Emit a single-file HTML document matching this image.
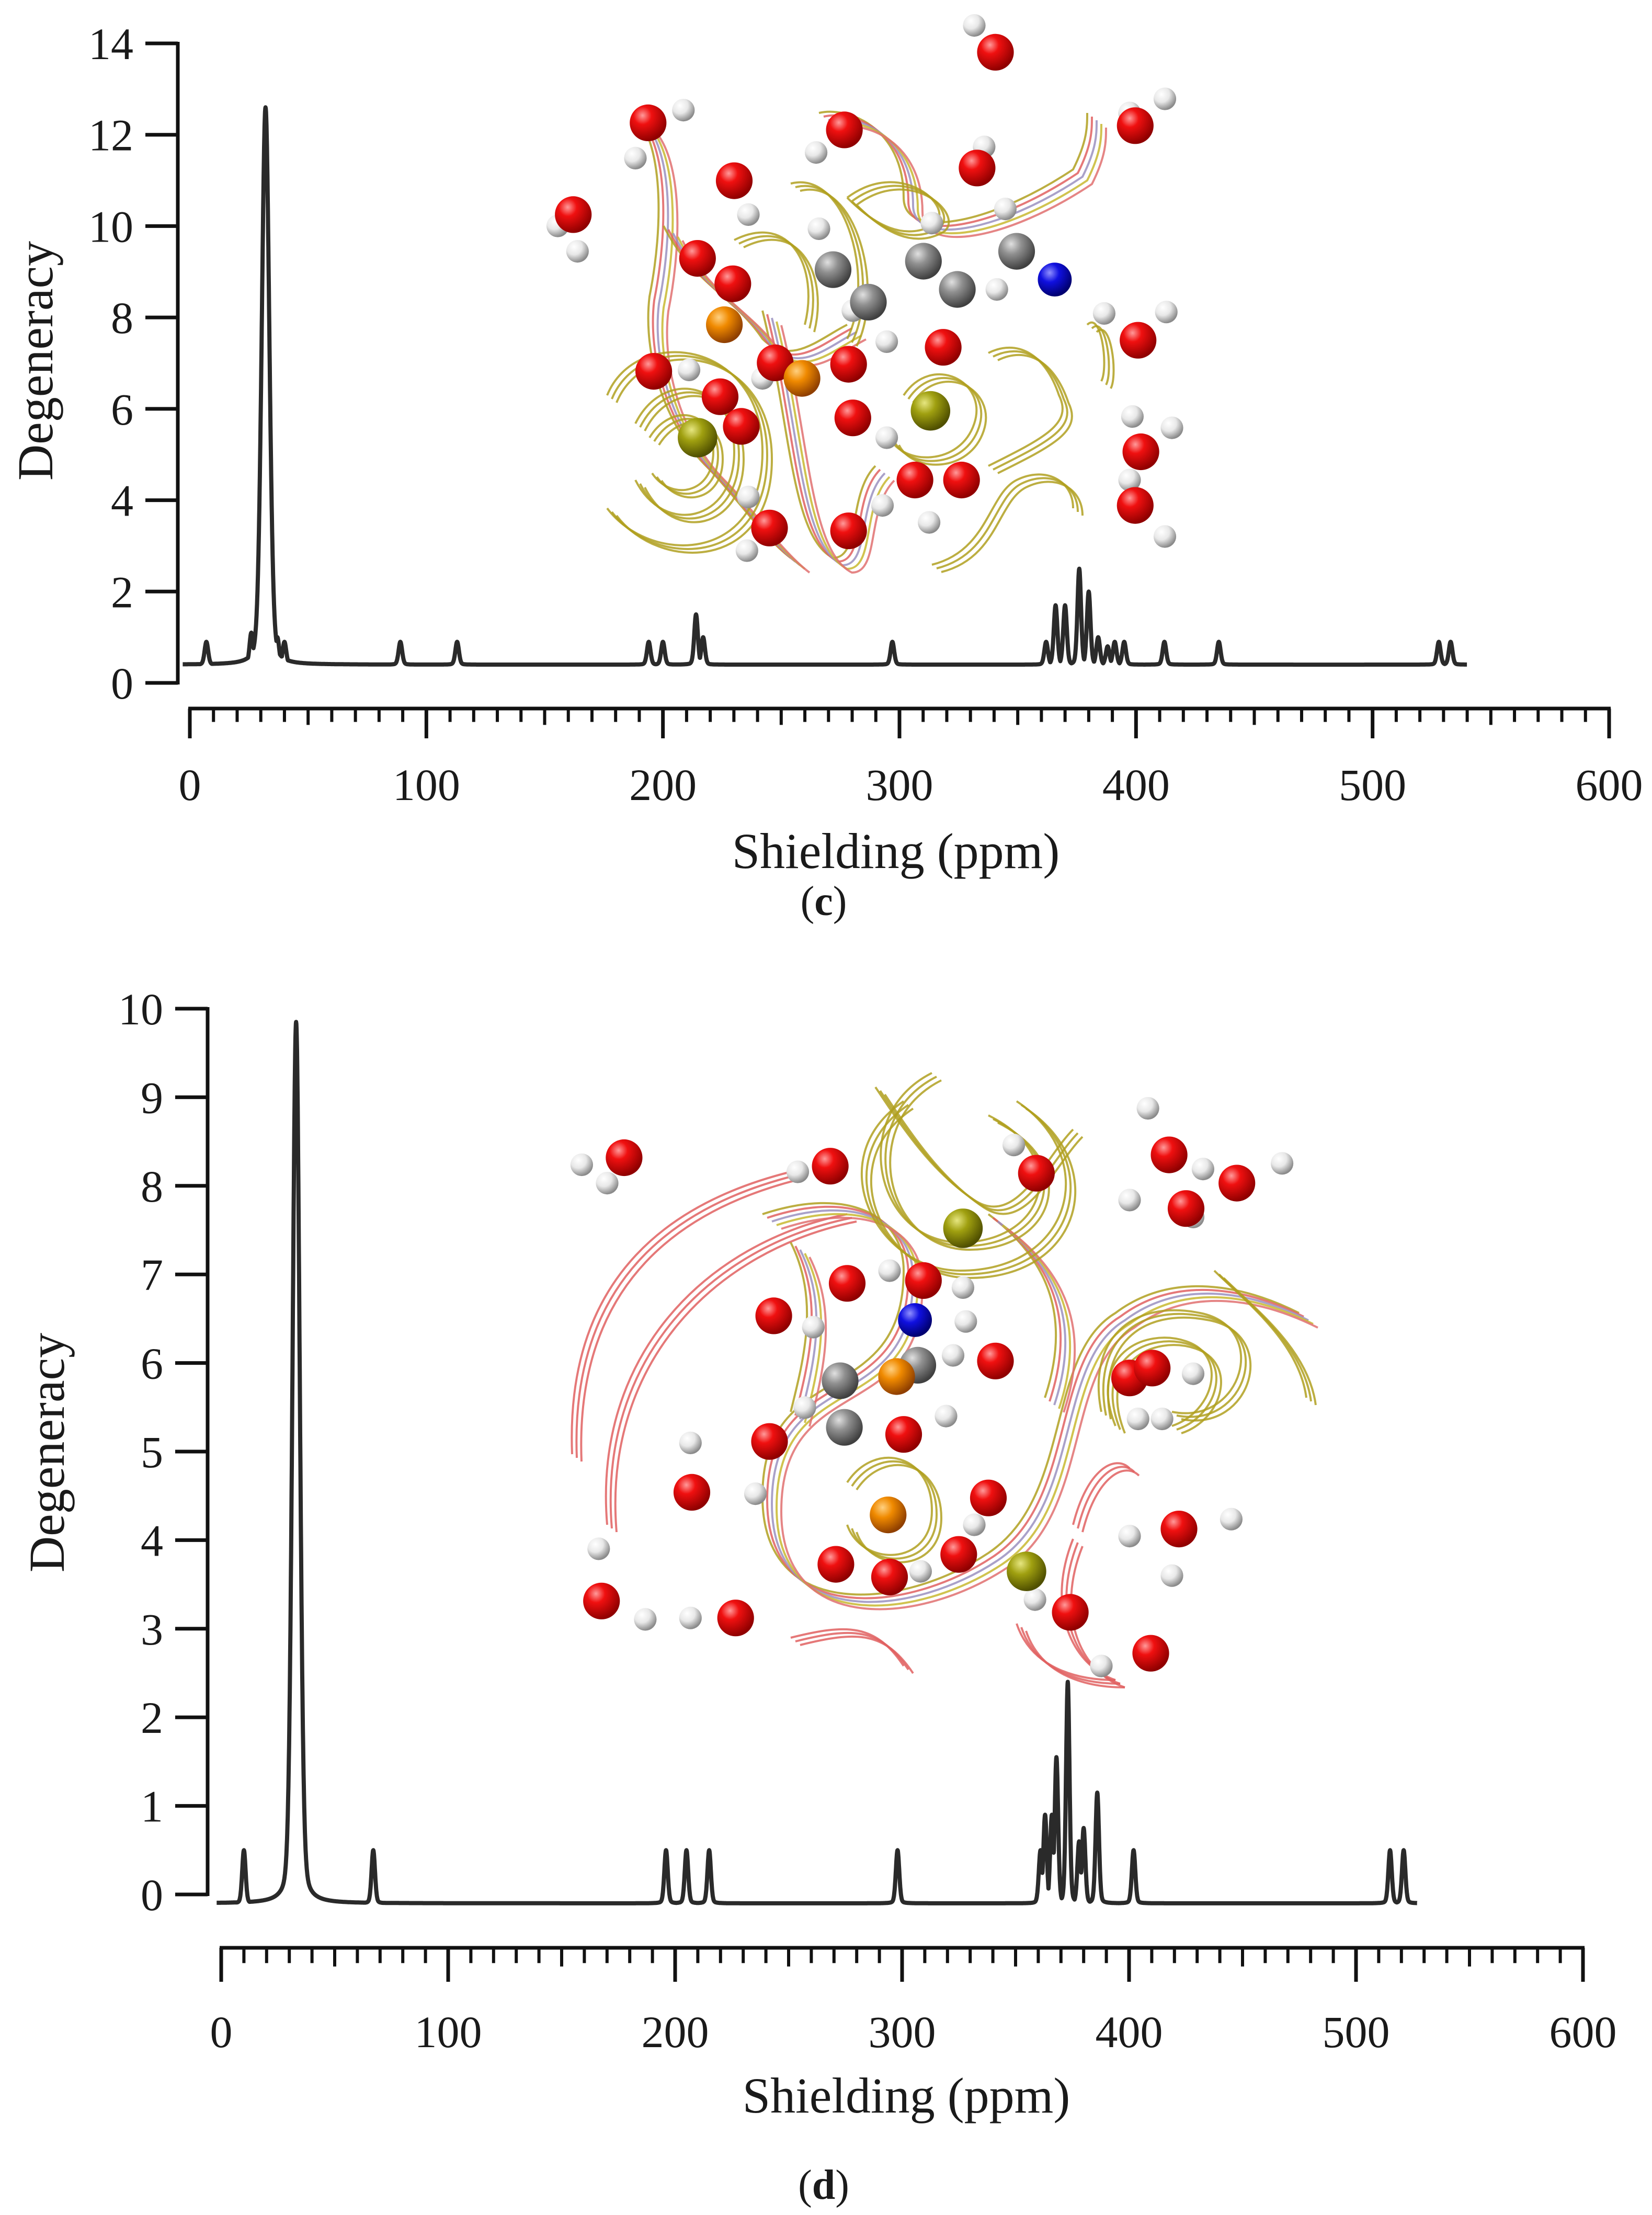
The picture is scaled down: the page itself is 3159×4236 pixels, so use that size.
<!DOCTYPE html>
<html><head><meta charset="utf-8">
<style>
html,body{margin:0;padding:0;background:#fff;}
svg{display:block;}
text{font-family:"Liberation Serif",serif;fill:#1a1a1a;}
</style></head>
<body>
<svg id="fig" width="3159" height="4236" viewBox="0 0 3159 4236" xmlns="http://www.w3.org/2000/svg">
<defs>
<radialGradient id="gR" cx="35%" cy="30%" r="70%"><stop offset="0" stop-color="#ff9a9a"/><stop offset="0.35" stop-color="#f01010"/><stop offset="1" stop-color="#900000"/></radialGradient>
<radialGradient id="gW" cx="35%" cy="30%" r="70%"><stop offset="0" stop-color="#ffffff"/><stop offset="0.5" stop-color="#e8e8e8"/><stop offset="1" stop-color="#8a8a8a"/></radialGradient>
<radialGradient id="gG" cx="35%" cy="30%" r="70%"><stop offset="0" stop-color="#e0e0e0"/><stop offset="0.4" stop-color="#909090"/><stop offset="1" stop-color="#404040"/></radialGradient>
<radialGradient id="gO" cx="35%" cy="30%" r="70%"><stop offset="0" stop-color="#ffd080"/><stop offset="0.4" stop-color="#f08a00"/><stop offset="1" stop-color="#904000"/></radialGradient>
<radialGradient id="gY" cx="35%" cy="30%" r="70%"><stop offset="0" stop-color="#e6e680"/><stop offset="0.4" stop-color="#a0a010"/><stop offset="1" stop-color="#505000"/></radialGradient>
<radialGradient id="gB" cx="35%" cy="30%" r="70%"><stop offset="0" stop-color="#9090ff"/><stop offset="0.4" stop-color="#1010e0"/><stop offset="1" stop-color="#000070"/></radialGradient>
</defs>
<g id="c-chart"></g>
<g id="d-chart"></g>
</svg>
<script>
// ---- Chart (c) data ----
const cPeakPos = [7, 26, 32, 37, 40, 89, 113, 194, 200, 214, 217, 297, 362, 366, 370, 376, 380, 384, 388, 391, 395, 412, 435, 528, 533];
const cPeakHeight = [0.9, 1.1, 12.6, 1.0, 0.9, 0.9, 0.9, 0.9, 0.9, 1.5, 1.0, 0.9, 0.9, 1.7, 1.7, 2.5, 2.0, 1.0, 0.8, 0.9, 0.9, 0.9, 0.9, 0.9, 0.9];
const cBaseline = 0.4;
const cYTicks = [0, 2, 4, 6, 8, 10, 12, 14];
const cXTicks = [0, 100, 200, 300, 400, 500, 600];
// ---- Chart (d) data ----
const dPeakPos = [10, 33, 67, 196, 205, 215, 298, 361, 363, 366, 368, 373, 378, 380, 386, 402, 515, 521];
const dPeakHeight = [0.5, 9.85, 0.5, 0.5, 0.5, 0.5, 0.5, 0.5, 0.9, 0.9, 1.55, 2.4, 0.6, 0.75, 1.15, 0.5, 0.5, 0.5];
const dBaseline = -0.1;
const dYTicks = [0,1,2,3,4,5,6,7,8,9,10];
const dXTicks = [0, 100, 200, 300, 400, 500, 600];

const NS = "http://www.w3.org/2000/svg";
function mk(parent, tag, attrs){ const e=document.createElementNS(NS,tag); for(const k in attrs) e.setAttribute(k,attrs[k]); parent.appendChild(e); return e; }

function drawChart(g, cfg){
  const sx = v => cfg.x0 + (v - 0) * (cfg.x600 - cfg.x0) / 600;
  const sy = v => cfg.y0 - (v - cfg.ymin) * (cfg.y0 - cfg.ytop) / (cfg.ymax - cfg.ymin);
  const ya = mk(g,'line',{x1:cfg.yAxisX,y1:sy(cfg.ymax)-3,x2:cfg.yAxisX,y2:sy(cfg.ymin)+3,stroke:'#111','stroke-width':7});
   
  cfg.yTicks.forEach(t=>{
    const tk = mk(g,'line',{x1:cfg.yAxisX-62,y1:sy(t),x2:cfg.yAxisX,y2:sy(t),stroke:'#111','stroke-width':7});
     
    const lb = mk(g,'text',{x:cfg.yAxisX-85,y:sy(t)+30,'text-anchor':'end','font-size':86});
    lb.textContent = t;
     
  });
  const xa = mk(g,'line',{x1:sx(0)-3,y1:cfg.xAxisY,x2:sx(600)+3,y2:cfg.xAxisY,stroke:'#111','stroke-width':7});
   
  for(let v=0; v<=600; v+=10){
    const major = v%100===0, mid = v%50===0;
    const len = major?cfg.majorLen:(mid?cfg.majorLen*0.55:cfg.majorLen*0.45);
    const tk = mk(g,'line',{x1:sx(v),y1:cfg.xAxisY,x2:sx(v),y2:cfg.xAxisY+len,stroke:'#111','stroke-width':major?7:6});
     
  }
  cfg.xTicks.forEach(t=>{
    const lb = mk(g,'text',{x:sx(t),y:cfg.xLabelY,'text-anchor':'middle','font-size':86});
    lb.textContent = t;
     
  });
  const xt = mk(g,'text',{x:cfg.xTitleX,y:cfg.xTitleY,'text-anchor':'middle','font-size':96});
  xt.textContent='Shielding (ppm)';
   
  const yt = mk(g,'text',{x:0,y:0,'text-anchor':'middle','font-size':96,transform:`translate(${cfg.yTitleX},${cfg.yTitleY}) rotate(-90)`});
  yt.textContent='Degeneracy';
   
  const cap = mk(g,'text',{x:cfg.capX,y:cfg.capY,'text-anchor':'middle','font-size':80});
  cap.innerHTML = '(<tspan font-weight="bold">'+cfg.cap+'</tspan>)';
   
  drawMolecule(g, cfg.mol);
  let d='';
  for(let v=cfg.xs; v<=cfg.xe; v+=0.1){
    let y=cfg.base;
    cfg.pos.forEach((p,i)=>{
      const w = (cfg.h[i]>5)?1.9:0.9;
      const u=(v-p)/w;
      const shape = 0.8*Math.exp(-u*u*0.7) + 0.2/(1+u*u);
      const val = cfg.base + (cfg.h[i]-cfg.base)*shape;
      if(val>y) y=val;
    });
    d += (d?'L':'M')+sx(v).toFixed(1)+' '+sy(y).toFixed(1);
  }
  const sp = mk(g,'path',{d:d,fill:'none',stroke:'#2a2a2a','stroke-width':8,'stroke-linejoin':'round'});
   
}

function drawMolecule(g, m){
  const S=2.7;
  const mg = mk(g,'g',{});
   
  const cols=['#b0a020','#e06060','#9a90c0','#c8b830','#e07070'];
  m.contours.forEach(c=>{
    const dd=c.d.replace(/-?\d+(\.\d+)?/g,n=>(parseFloat(n)*S).toFixed(0));
    const n = c.w?3:5;
    for(let k=0;k<n;k++){
      mk(mg,'path',{d:dd,fill:'none',stroke:c.w?c.col:cols[k],'stroke-width':4,opacity:0.85,transform:`translate(${k*9},${k*7})`});
    }
  });
  const grad={r:'url(#gR)',w:'url(#gW)',g:'url(#gG)',o:'url(#gO)',y:'url(#gY)',b:'url(#gB)'};
  const rad={r:13,w:8,g:13,o:13,y:14,b:12};
  ['w','r','g','o','y','b'].forEach(t=>{
    (m[t]||[]).forEach(p=>{
      mk(mg,'circle',{cx:p[0]*S,cy:p[1]*S,r:rad[t]*S,fill:grad[t]});
    });
  });
}

const molC = {
 r:[[705,37],[459,87],[598,92],[804,89],[520,128],[692,119],[406,152],[494,183],[519,201],[806,241],[668,246],[549,257],[463,263],[510,281],[601,258],[525,302],[604,296],[648,340],[681,340],[808,320],[804,358],[545,374],[601,376]],
 o:[[513,230],[568,268]],
 g:[[654,185],[678,205],[615,214],[720,178],[590,191]],
 y:[[494,310],[659,291]],
 b:[[747,198]],
 w:[[690,18],[484,78],[450,112],[530,152],[578,108],[409,178],[395,160],[825,70],[800,80],[712,148],[660,158],[580,162],[488,262],[540,268],[706,205],[628,242],[604,220],[782,222],[826,221],[628,310],[658,370],[530,352],[625,358],[802,295],[830,303],[800,340],[825,380],[529,390],[697,104]],
 contours:[
  {d:"M448 80 C470 100 470 160 460 210 C455 250 470 300 500 330 C520 350 540 380 560 395"},
  {d:"M580 80 C600 75 640 90 640 140 C640 170 700 160 760 120 C770 100 770 90 770 80"},
  {d:"M540 220 C560 300 560 380 590 395 C610 395 600 350 620 330"},
  {d:"M470 160 C490 200 520 210 540 240 C560 260 580 240 600 230"},
  {d:"M450 300 C470 260 520 270 520 320 C520 370 470 380 450 340",col:'#b0a020',w:4},
  {d:"M460 310 C475 285 505 290 505 320 C505 350 475 355 462 335",col:'#b0a020',w:4},
  {d:"M430 280 C450 230 540 240 540 320 C540 400 460 400 430 360",col:'#b0a020',w:4},
  {d:"M640 280 C660 250 700 270 690 300 C680 330 640 330 630 310",col:'#b0a020',w:4},
  {d:"M700 250 C720 240 740 250 750 280 C760 300 740 310 700 330",col:'#b0a020',w:4},
  {d:"M660 400 C700 390 700 350 720 340 C740 330 760 340 760 360",col:'#b0a020',w:4},
  {d:"M770 230 C780 220 785 260 780 270",col:'#b0a020',w:4},
  {d:"M600 140 C620 160 640 170 660 160 C680 150 640 110 600 140",col:'#b0a020',w:4},
  {d:"M560 130 C600 120 620 200 600 240",col:'#b0a020',w:4},
  {d:"M520 170 C560 150 580 190 570 230",col:'#b0a020',w:4}
 ]
};
const molD = {
 r:[[442,820],[588,826],[734,831],[828,818],[876,838],[840,856],[548,932],[600,909],[654,907],[705,964],[800,976],[816,969],[490,1057],[545,1021],[640,1016],[700,1061],[592,1108],[630,1117],[679,1101],[426,1134],[521,1146],[758,1142],[815,1171],[835,1083]],
 o:[[635,975],[629,1073]],
 g:[[595,978],[598,1011],[650,967]],
 y:[[682,870],[727,1113]],
 b:[[648,935]],
 w:[[412,825],[430,838],[565,830],[718,811],[813,785],[852,828],[908,824],[800,850],[845,862],[576,940],[630,900],[682,912],[684,936],[675,960],[570,997],[670,1003],[489,1022],[535,1058],[690,1080],[652,1113],[424,1097],[457,1147],[489,1146],[733,1133],[780,1180],[800,1088],[830,1116],[872,1076],[845,973],[806,1005],[823,1005]],
 contours:[
  {d:"M405 1030 C400 900 480 850 560 830",col:'#e06060',w:4},
  {d:"M430 1080 C420 960 500 880 600 860",col:'#e06060',w:4},
  {d:"M540 860 C600 840 640 860 640 900 C640 1000 540 960 540 1060 C540 1150 640 1140 700 1100 C760 1060 740 960 790 930 C830 900 880 910 920 930"},
  {d:"M700 860 C740 890 760 930 740 990"},
  {d:"M560 880 C580 920 570 960 560 1000"},
  {d:"M620 770 C640 800 660 830 690 850 C720 870 740 820 760 800",col:'#b0a020',w:4},
  {d:"M660 760 C600 790 620 880 680 880 C740 880 760 820 700 790",col:'#b0a020',w:4},
  {d:"M640 780 C580 820 620 900 680 900 C760 900 780 820 720 780",col:'#b0a020',w:4},
  {d:"M780 1000 C770 950 800 920 850 930 C900 940 880 1010 830 1000",col:'#b0a020',w:4},
  {d:"M790 1010 C770 960 810 940 840 950 C870 960 860 1000 830 1010",col:'#b0a020',w:4},
  {d:"M760 1090 C740 1140 760 1180 790 1190",col:'#e06060',w:4},
  {d:"M720 1150 C730 1180 760 1190 790 1190",col:'#e06060',w:4},
  {d:"M860 900 C880 920 920 950 925 990",col:'#b0a020',w:4},
  {d:"M640 1180 C620 1150 600 1150 560 1160",col:'#e06060',w:4},
  {d:"M760 1080 C770 1040 790 1030 800 1040",col:'#e06060',w:4},
  {d:"M600 1050 C620 1020 660 1030 660 1070 C660 1110 610 1110 600 1080",col:'#b0a020',w:4}
 ]
};

drawChart(document.getElementById('c-chart'),{
  x0:363, x600:3077, ymin:0, ymax:14, y0:1306, ytop:83, yAxisX:340,
  yTicks:cYTicks, xTicks:cXTicks, xAxisY:1355, majorLen:57, xLabelY:1530,
  xTitleX:1713, xTitleY:1660, yTitleX:100, yTitleY:690, capX:1575, capY:1750, cap:'c',
  pos:cPeakPos, h:cPeakHeight, base:cBaseline, xs:-3, xe:540, mol:molC
});
drawChart(document.getElementById('d-chart'),{
  x0:423, x600:3027, ymin:0, ymax:10, y0:3623, ytop:1929, yAxisX:397,
  yTicks:dYTicks, xTicks:dXTicks, xAxisY:3725, majorLen:65, xLabelY:3915,
  xTitleX:1733, xTitleY:4040, yTitleX:122, yTitleY:2778, capX:1575, capY:4205, cap:'d',
  pos:dPeakPos, h:dPeakHeight, base:dBaseline, xs:-2, xe:527, mol:molD
});
</script>
</body></html>
